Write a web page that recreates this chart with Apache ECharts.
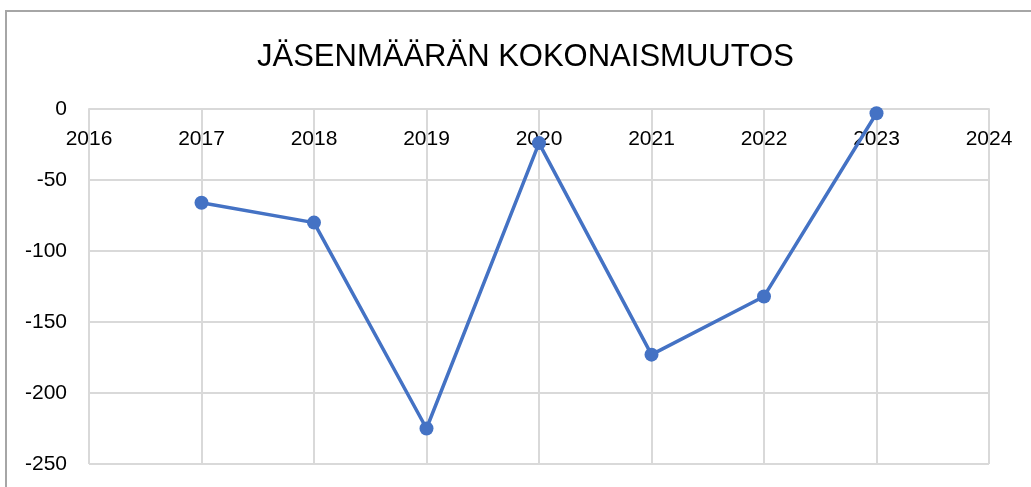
<!DOCTYPE html>
<html>
<head>
<meta charset="utf-8">
<script src="https://cdn.jsdelivr.net/npm/echarts@6/dist/echarts.min.js"></script>
<style>
  html, body { margin: 0; padding: 0; background: #fff; }
  #chart { width: 1031px; height: 487px; }
</style>
</head>
<body>
<div id="chart"></div>
<script>
  // vuodet ja jäsenmäärän muutos
  const years = [2017, 2018, 2019, 2020, 2021, 2022, 2023];
  const changes = [-66, -80, -225, -24, -173, -132, -3];
  const title = 'JÄSENMÄÄRÄN KOKONAISMUUTOS';

  const chart = echarts.init(document.getElementById('chart'));
  const points = years.map((y, i) => [y, changes[i]]);

  chart.setOption({
    animation: false,
    textStyle: { fontFamily: 'Liberation Sans' },
    title: {
      text: title,
      left: 252,
      top: 37,
      textStyle: { fontSize: 31, fontWeight: 'normal', color: '#000' }
    },
    graphic: [{
      type: 'rect',
      shape: { x: 6, y: 11, width: 1100, height: 600 },
      style: { fill: 'none', stroke: '#a6a6a6', lineWidth: 2 },
      silent: true
    }],
    grid: { left: 89, right: 42, top: 109, bottom: 23, containLabel: false, outerBoundsMode: 'none' },
    xAxis: {
      type: 'value',
      position: 'top',
      min: 2016,
      max: 2024,
      interval: 1,
      axisLine: { onZero: false, lineStyle: { color: '#d9d9d9', width: 2 } },
      axisTick: { show: false },
      axisLabel: { color: '#000', fontSize: 21, inside: true, margin: 20, formatter: v => String(v) },
      splitLine: { show: true, lineStyle: { color: '#d9d9d9', width: 2 } }
    },
    yAxis: {
      type: 'value',
      min: -250,
      max: 0,
      interval: 50,
      axisLine: { show: false },
      axisTick: { show: false },
      axisLabel: { color: '#000', fontSize: 21, margin: 22 },
      splitLine: { lineStyle: { color: '#d9d9d9', width: 2 } }
    },
    series: [{
      type: 'line',
      data: points,
      symbol: 'circle',
      symbolSize: 14,
      lineStyle: { color: '#4472c4', width: 3.5 },
      itemStyle: { color: '#4472c4' }
    }]
  });
</script>
</body>
</html>
